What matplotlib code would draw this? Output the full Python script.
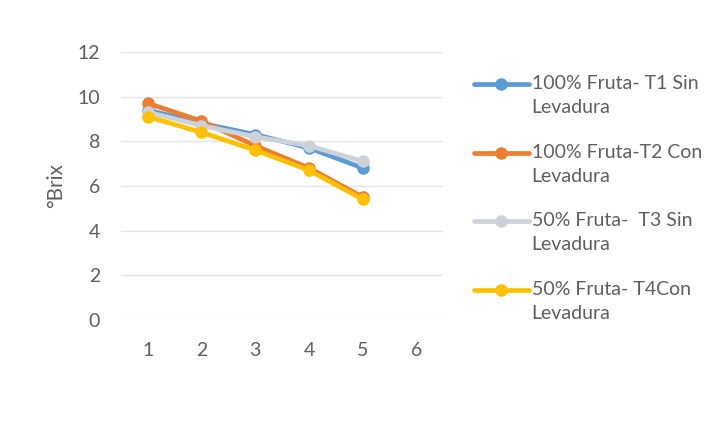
import matplotlib
matplotlib.use("Agg")
import matplotlib.pyplot as plt
from matplotlib.legend_handler import HandlerLine2D

plt.rcParams['font.family'] = ['Lato', 'DejaVu Sans']

# muestreos (dias) y grados Brix por tratamiento
dias = [1, 2, 3, 4, 5]
t1_sin_lev = [9.4, 8.8, 8.3, 7.7, 6.8]
t2_con_lev = [9.7, 8.9, 7.8, 6.8, 5.5]
t3_sin_lev = [9.3, 8.7, 8.2, 7.8, 7.1]
t4_con_lev = [9.1, 8.4, 7.6, 6.7, 5.4]

etiquetas = ["100% Fruta- T1 Sin\nLevadura",
             "100% Fruta-T2 Con\nLevadura",
             "50% Fruta-  T3 Sin\nLevadura",
             "50% Fruta- T4Con\nLevadura"]
colores = ["#5B9BD5", "#ED7D31", "#CDD1D8", "#FFC000"]
series = [t1_sin_lev, t2_con_lev, t3_sin_lev, t4_con_lev]

gris = "#5f5f5f"


class HandlerPrimeraLinea(HandlerLine2D):
    # sube la muestra de la leyenda a la altura de la primera linea del texto
    def __init__(self, subir, **kw):
        super().__init__(**kw)
        self.subir = subir

    def create_artists(self, legend, orig_handle, xdescent, ydescent,
                       width, height, fontsize, trans):
        arts = super().create_artists(legend, orig_handle, xdescent, ydescent,
                                      width, height, fontsize, trans)
        for a in arts:
            a.set_ydata([y + self.subir for y in a.get_ydata()])
        return arts


fig = plt.figure(figsize=(7.07, 4.22), dpi=100)
ax = fig.add_axes([0.171, 0.242, 0.456, 0.635])

for vals, col, lab in zip(series, colores, etiquetas):
    ax.plot(dias, vals, color=col, lw=3.4, marker='o', ms=8,
            markeredgecolor=col, label=lab, solid_capstyle='round')

ax.set_xlim(0.5, 6.5)
ax.set_ylim(0, 12)
ax.set_xticks([1, 2, 3, 4, 5, 6])
ax.set_yticks(range(0, 13, 2))
ax.grid(axis='y', color='#E4E4E4', lw=1)
ax.set_axisbelow(True)
for s in ax.spines.values():
    s.set_visible(False)
ax.tick_params(length=0, labelsize=14, labelcolor=gris)
ax.tick_params(axis='x', pad=16)
ax.tick_params(axis='y', pad=15)
ax.set_ylabel("°Brix", fontsize=15, color=gris, labelpad=8)

h, l = ax.get_legend_handles_labels()
leg = fig.legend(h, l, loc='upper left', bbox_to_anchor=(0.657, 0.845),
                 frameon=False, fontsize=14, labelcolor=gris,
                 handlelength=2.8, handletextpad=0.15, labelspacing=1.42,
                 borderpad=0,
                 handler_map={hh: HandlerPrimeraLinea(8.5) for hh in h})
for t in leg.get_texts():
    t.set_linespacing(1.5)

fig.savefig("out.png", dpi=100)
